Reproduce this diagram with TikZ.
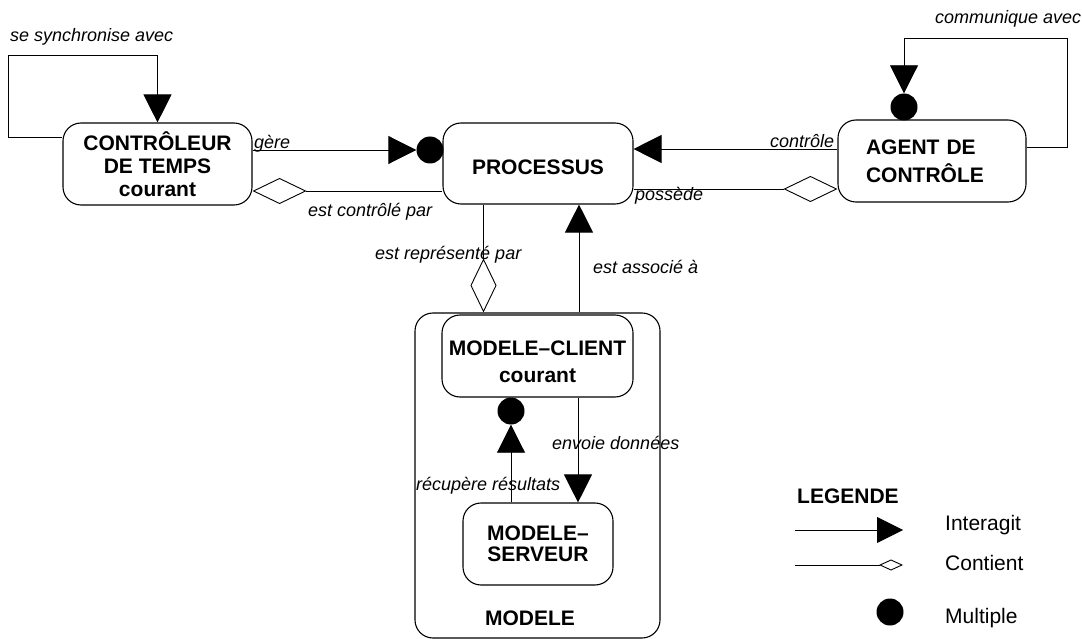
\documentclass[tikz,border=0pt]{standalone}
\usepackage{fontspec}
\setmainfont{Liberation Sans}
\usetikzlibrary{arrows.meta}

\begin{document}
\begin{tikzpicture}[x=1pt,y=-1pt,
  entity/.style={draw, line width=1.1pt, rounded corners=18pt, inner sep=0pt, align=center},
  bigfont/.style={font=\fontsize{21}{#1}\selectfont\bfseries},
  link/.style={line width=0.9pt},
  tri/.style={-{Triangle[length=28pt,width=28pt]}},
  dia/.style={-{Diamond[open,length=54pt,width=26pt]}},
  dot/.style={circle, fill=black, inner sep=0pt, minimum size=27pt},
  lbl/.style={font=\fontsize{18}{20}\selectfont\itshape, anchor=base west, inner sep=0pt},
  legtext/.style={font=\fontsize{21}{23}\selectfont, anchor=base west, inner sep=0pt}]

\useasboundingbox (0,0) rectangle (1082,639);

% --- entities ---
\node[entity, bigfont=23, minimum width=189pt, minimum height=82pt] (ctrl) at (157.5,164) {CONTRÔLEUR\\DE TEMPS\\courant};
\node[entity, bigfont=23, minimum width=190pt, minimum height=81pt, text height=23pt, text depth=0pt] (proc) at (538,163.5) {PROCESSUS};
\node[entity, bigfont=28, minimum height=82pt, text width=132pt, inner xsep=28pt, align=left] (agent) at (932,161) {AGENT DE\\CONTRÔLE};

% model container and its parts
\node[entity, minimum width=245pt, minimum height=325pt] (modele) at (537.5,475.5) {};
\node[font=\fontsize{21}{23}\selectfont\bfseries, anchor=base, inner sep=0pt] (modlbl) at (530,625) {MODELE};
\node[entity, bigfont=27, minimum width=191pt, minimum height=82pt] (client) at (537.5,356) {\rule{0pt}{27pt}MODELE–CLIENT\\courant};
\node[entity, bigfont=21, minimum width=150pt, minimum height=82pt] (serv) at (538,544) {MODELE–\\SERVEUR};

% multiplicity dots
\node[dot] (gdot) at (430,150) {};
\node[dot] (adot) at (904,107) {};
\node[dot] (rdot) at (511,411) {};

% --- relations ---
% se synchronise avec (self loop)
\draw[link,tri] ([yshift=27pt]ctrl.west) -| (8,55) -| (ctrl.north);
\node[lbl] (l1) at (10,42) {se synchronise avec};

% gère
\draw[link,tri] ([yshift=14pt]ctrl.east) -- (gdot.west);
\node[lbl] (l2) at (254,149) {gère};

% est contrôlé par
\draw[link,dia] ([yshift=-27.5pt]proc.west) coordinate (c1) -- (c1 -| ctrl.east);
\node[lbl] (l3) at (308,217) {est contrôlé par};

% contrôle
\draw[link,tri] ([yshift=12pt]agent.west) coordinate (a1) -- (a1 -| proc.east);
\node[lbl] (l4) at (770,148) {contrôle};

% possède
\draw[link,dia] ([yshift=-25.5pt]proc.east) coordinate (p1) -- (p1 -| agent.west);
\node[lbl] (l5) at (635,201) {possède};

% communique avec (self loop)
\draw[link,tri] ([yshift=14pt]agent.east) -| (1067,38) -| (adot.north);
\node[lbl] (l6) at (935,24) {communique avec};

% est représenté par
\draw[link,dia] ([xshift=-54.5pt]proc.south) coordinate (r1) -- (r1 |- modele.north);
\node[lbl] (l7) at (375,259) {est représenté par};

% est associé à
\draw[link,tri] ([xshift=41.5pt]modele.north) coordinate (s1) -- (s1 |- proc.south);
\node[lbl] (l8) at (593,273) {est associé à};

% récupère résultats
\draw[link,tri] ([xshift=-27pt]serv.north) coordinate (k1) -- (k1 |- rdot.south);
\node[lbl] (l9) at (416,490) {récupère résultats};

% envoie données
\draw[link,tri] ([xshift=40.5pt]client.south) coordinate (e1) -- (e1 |- serv.north);
\node[lbl] (l10) at (552,449) {envoie données};

% --- legend ---
\node[legtext, font=\fontsize{21}{23}\selectfont\bfseries] (legtitle) at (797,503) {LEGENDE};
\coordinate (ia) at (795,530);
\coordinate (ib) at (903,530);
\draw[link,-{Triangle[length=26pt,width=26pt]}] (ia) -- (ib);
\node[legtext] (legi) at (945,530) {Interagit};
\coordinate (ca) at (795,565);
\coordinate (cb) at (903,565);
\draw[link,-{Diamond[open,length=24pt,width=11pt]}] (ca) -- (cb);
\node[legtext] (legc) at (945,570) {Contient};
\node[dot] (mdot) at (890,612) {};
\node[legtext] (legm) at (945,623) {Multiple};

\end{tikzpicture}
\end{document}
